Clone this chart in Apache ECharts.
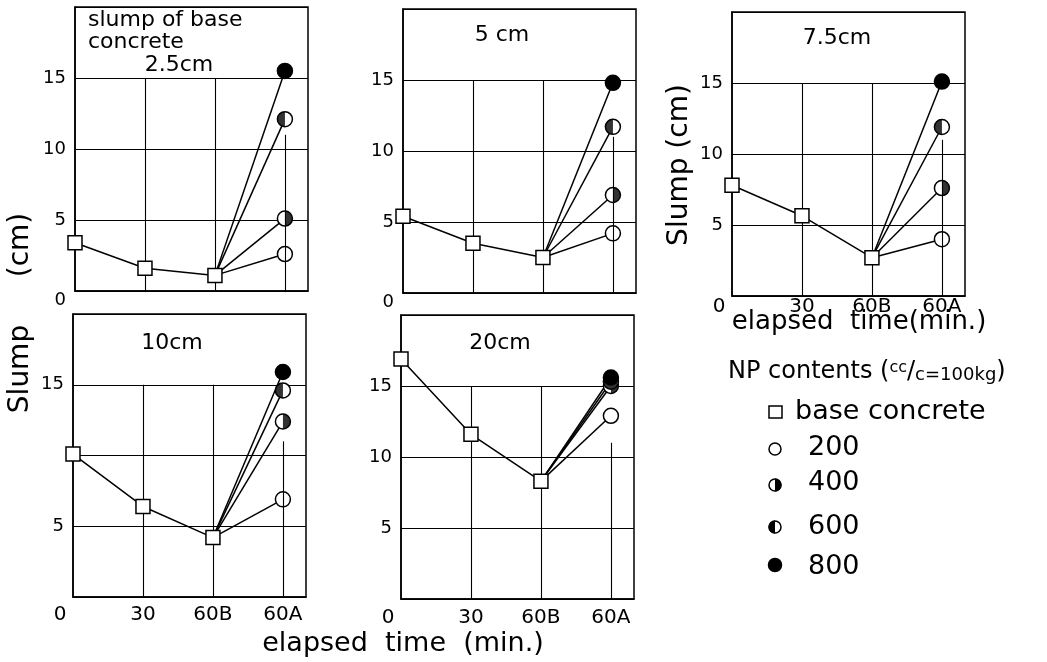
<!DOCTYPE html>
<html><head><meta charset="utf-8">
<script src="https://cdn.jsdelivr.net/npm/echarts@6/dist/echarts.min.js"></script>
<style>html,body{margin:0;padding:0;background:#fff}#c{width:1047px;height:662px}</style>
</head><body><div id="c"></div>
<script>
// ---- data ----
const timeLabels = ['0', '30', '60B', '60A'];
const panelTitles = ['2.5cm', '5 cm', '7.5cm', '10cm', '20cm'];
const baseSlump = [
  [3.4, 1.6, 1.1],
  [5.4, 3.5, 2.5],
  [7.8, 5.65, 2.7],
  [10.1, 6.4, 4.2],
  [16.9, 11.6, 8.3]
];
const np200 = [2.6, 4.2, 4.0, 6.9, 12.9];
const np400 = [5.1, 6.9, 7.6, 12.4, 15.0];
const np600 = [12.1, 11.7, 11.9, 14.6, 15.3];
const np800 = [15.5, 14.8, 15.1, 15.9, 15.6];
const yTickLabels = [['15','10','5','0'], ['15','10','5','0'], ['15','10','5'], ['15','5'], ['15','10','5']];
const legendNames = ['base concrete', '200', '400', '600', '800'];

// ---- layout ----
const FONT = 'DejaVu Sans';
const grids = [
  {left: 75, top: 7, width: 233, height: 284},
  {left: 403, top: 9, width: 233, height: 284},
  {left: 732, top: 12, width: 233, height: 284},
  {left: 73, top: 314, width: 233, height: 283},
  {left: 401, top: 315, width: 233, height: 284}
];
const showTime = [false, false, true, true, true];
const timeMargin = [0, 0, 1, 8, 9];

const chart = echarts.init(document.getElementById('c'));
const RIGHT_HALF = 'path://M0,0A10,10,0,0,1,0,20Z';
const LEFT_HALF = 'path://M10,0A10,10,0,0,0,10,20Z';
const LW = 1.5;

const xAxes = [], yAxes = [], series = [];
grids.forEach((g, i) => {
  xAxes.push({
    type: 'value', gridIndex: i, min: 0, max: 3.33, interval: 1,
    splitLine: {show: false}, axisTick: {show: false},
    axisLine: {show: true, lineStyle: {color: '#000', width: LW}},
    axisLabel: {
      show: showTime[i], margin: timeMargin[i], color: '#000', fontFamily: FONT, fontSize: 20,
      formatter: v => {
        const k = Math.round(v);
        if (Math.abs(v - k) > 1e-6 || k > 3) return '';
        return k === 0 ? '{o|0}' : timeLabels[k];
      },
      rich: {o: {fontFamily: FONT, fontSize: 20, color: '#000', padding: [0, 26, 0, 0]}}
    }
  });
  const labs = yTickLabels[i];
  yAxes.push({
    type: 'value', gridIndex: i, min: 0, max: 20, interval: 5,
    axisTick: {show: false},
    axisLine: {show: true, lineStyle: {color: '#000', width: LW}},
    splitLine: {show: true, lineStyle: {color: '#000', width: 1.1}},
    axisLabel: {
      margin: 9, color: '#000', fontFamily: FONT, fontSize: 18,
      formatter: v => {
        const s = String(v);
        if (!labs.includes(s)) return '';
        return s === '0' ? '{z|0}' : s;
      },
      rich: {z: {fontFamily: FONT, fontSize: 18, color: '#000', padding: [18, 0, 0, 0]}}
    }
  });
  const b = baseSlump[i];
  series.push({
    type: 'line', xAxisIndex: i, yAxisIndex: i, z: 5,
    data: [[0, b[0]], [1, b[1]], [2, b[2]]],
    symbol: 'rect', symbolSize: 14,
    itemStyle: {color: '#fff', borderColor: '#000', borderWidth: LW},
    lineStyle: {color: '#000', width: LW},
    markLine: {
      silent: true, symbol: ['none', 'none'], label: {show: false}, animation: false,
      lineStyle: {color: '#000', width: 1.1, type: 'solid'},
      data: [
        [{coord: [1, 0]}, {coord: [1, 15]}],
        [{coord: [2, 0]}, {coord: [2, 15]}],
        [{coord: [3, 0]}, {coord: [3, 11]}]
      ]
    }
  });
  const npSets = [np200, np400, np600, np800];
  npSets.forEach((arr, j) => {
    series.push({
      type: 'line', xAxisIndex: i, yAxisIndex: i, z: 3,
      data: [{value: [2, b[2]], symbol: 'none'}, {value: [3, arr[i]]}],
      symbol: 'circle', symbolSize: 15,
      itemStyle: {color: j === 3 ? '#000' : '#fff', borderColor: '#000', borderWidth: LW},
      lineStyle: {color: '#000', width: LW}
    });
  });
  // half fills: 400 = right half dark, 600 = left half dark
  series.push({
    type: 'scatter', xAxisIndex: i, yAxisIndex: i, z: 4,
    data: [[3, np400[i]]], symbol: RIGHT_HALF, symbolSize: [7.5, 15], symbolOffset: [3.75, 0],
    itemStyle: {color: '#000'}
  });
  series.push({
    type: 'scatter', xAxisIndex: i, yAxisIndex: i, z: 4,
    data: [[3, np600[i]]], symbol: LEFT_HALF, symbolSize: [7.5, 15], symbolOffset: [-3.75, 0],
    itemStyle: {color: '#000'}
  });
});

const txt = (x, y, text, size, extra) => Object.assign({
  type: 'text', x: x, y: y,
  style: Object.assign({text: text, fontFamily: FONT, fontSize: size, fill: '#000', align: 'center', verticalAlign: 'middle'}, extra || {})
});
const graphics = [
  txt(88, 31, 'slump of base\nconcrete', 22, {align: 'left', lineHeight: 22}),
  txt(179, 65, panelTitles[0], 22),
  txt(502, 35, panelTitles[1], 22),
  txt(837, 38, panelTitles[2], 22),
  txt(172, 343, panelTitles[3], 22),
  txt(500, 343, panelTitles[4], 22),
  Object.assign(txt(21, 245, '(cm)', 28), {rotation: Math.PI / 2}),
  Object.assign(txt(21, 369, 'Slump', 28), {rotation: Math.PI / 2}),
  Object.assign(txt(680, 165, 'Slump (cm)', 28), {rotation: Math.PI / 2}),
  txt(403, 644, 'elapsed  time  (min.)', 27),
  txt(859, 322, 'elapsed  time(min.)', 26),
  {
    type: 'text', x: 728, y: 372,
    style: {
      text: '{a|NP contents (}{s|cc}{a|/}{b|c=100kg}{a|)}',
      verticalAlign: 'middle', align: 'left',
      rich: {
        a: {fontFamily: FONT, fontSize: 24, fill: '#000', verticalAlign: 'bottom'},
        s: {fontFamily: FONT, fontSize: 16, fill: '#000', verticalAlign: 'top'},
        b: {fontFamily: FONT, fontSize: 18, fill: '#000', verticalAlign: 'bottom'}
      }
    }
  },
  {type: 'rect', shape: {x: 769, y: 406, width: 13, height: 12}, style: {fill: '#fff', stroke: '#000', lineWidth: 1.5}},
  txt(795, 412, legendNames[0], 27, {align: 'left'}),
  {type: 'circle', shape: {cx: 775, cy: 449, r: 6}, style: {fill: '#fff', stroke: '#000', lineWidth: 1.5}},
  txt(808, 448, legendNames[1], 27, {align: 'left'}),
  {type: 'circle', shape: {cx: 775, cy: 485, r: 6}, style: {fill: '#fff', stroke: '#000', lineWidth: 1.5}},
  {type: 'sector', shape: {cx: 775, cy: 485, r: 6.5, r0: 0, startAngle: -Math.PI / 2, endAngle: Math.PI / 2}, style: {fill: '#000'}},
  txt(808, 483, legendNames[2], 27, {align: 'left'}),
  {type: 'circle', shape: {cx: 775, cy: 527, r: 6}, style: {fill: '#fff', stroke: '#000', lineWidth: 1.5}},
  {type: 'sector', shape: {cx: 775, cy: 527, r: 6.5, r0: 0, startAngle: Math.PI / 2, endAngle: Math.PI * 1.5}, style: {fill: '#000'}},
  txt(808, 527, legendNames[3], 27, {align: 'left'}),
  {type: 'circle', shape: {cx: 775, cy: 565, r: 6.5}, style: {fill: '#000', stroke: '#000', lineWidth: 1.5}},
  txt(808, 567, legendNames[4], 27, {align: 'left'})
];

chart.setOption({
  animation: false,
  backgroundColor: '#fff',
  grid: grids.map(g => Object.assign({show: true, borderColor: '#000', borderWidth: LW, backgroundColor: 'transparent'}, g)),
  xAxis: xAxes,
  yAxis: yAxes,
  series: series,
  graphic: graphics
});
</script>
</body></html>
